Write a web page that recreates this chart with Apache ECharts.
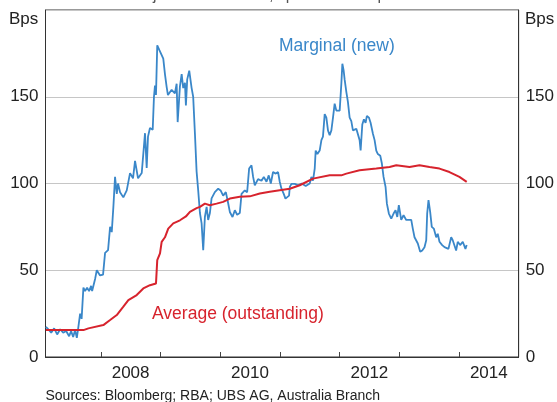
<!DOCTYPE html>
<html>
<head>
<meta charset="utf-8">
<script src="https://cdn.jsdelivr.net/npm/echarts@6/dist/echarts.min.js"></script>
<style>
html,body{margin:0;padding:0;background:#fff;}
#chart{width:557px;height:402px;}
</style>
</head>
<body>
<div id="chart"></div>
<script>
// Decimal-year dates and basis-point spreads
var marginalDates = [2007.080,2007.119,2007.169,2007.219,2007.269,2007.319,2007.370,2007.420,2007.470,2007.503,2007.537,2007.570,2007.599,2007.620,2007.654,2007.679,2007.709,2007.737,2007.771,2007.804,2007.838,2007.855,2007.905,2007.933,2007.988,2008.038,2008.072,2008.122,2008.156,2008.184,2008.211,2008.239,2008.268,2008.289,2008.323,2008.378,2008.435,2008.490,2008.540,2008.574,2008.624,2008.686,2008.741,2008.769,2008.791,2008.824,2008.870,2008.891,2008.908,2008.925,2008.946,2008.980,2009.047,2009.075,2009.104,2009.125,2009.187,2009.242,2009.271,2009.288,2009.326,2009.355,2009.381,2009.410,2009.426,2009.448,2009.482,2009.522,2009.548,2009.577,2009.605,2009.632,2009.661,2009.689,2009.716,2009.744,2009.773,2009.799,2009.828,2009.856,2009.911,2009.967,2010.007,2010.050,2010.095,2010.134,2010.162,2010.207,2010.246,2010.284,2010.329,2010.358,2010.413,2010.452,2010.485,2010.525,2010.552,2010.580,2010.635,2010.692,2010.731,2010.776,2010.814,2010.848,2010.886,2010.931,2010.970,2010.998,2011.027,2011.065,2011.094,2011.120,2011.154,2011.166,2011.194,2011.249,2011.304,2011.366,2011.433,2011.500,2011.528,2011.555,2011.584,2011.600,2011.629,2011.667,2011.696,2011.722,2011.751,2011.779,2011.806,2011.834,2011.863,2011.890,2011.918,2011.946,2011.973,2012.002,2012.030,2012.047,2012.069,2012.085,2012.114,2012.140,2012.169,2012.197,2012.224,2012.253,2012.281,2012.308,2012.336,2012.353,2012.381,2012.408,2012.436,2012.458,2012.492,2012.520,2012.559,2012.587,2012.615,2012.642,2012.682,2012.709,2012.737,2012.771,2012.793,2012.826,2012.866,2012.905,2012.938,2012.967,2012.993,2013.033,2013.072,2013.117,2013.144,2013.201,2013.227,2013.256,2013.311,2013.351,2013.385,2013.423,2013.452,2013.468,2013.490,2013.518,2013.545,2013.579,2013.619,2013.645,2013.674,2013.719,2013.758,2013.786,2013.824,2013.870,2013.896,2013.925,2013.953,2013.980,2014.020,2014.064,2014.092,2014.109,2014.130];
var marginalValues = [17.4,16,14,16.5,13,16,14,15,12,15,11.5,15.5,11,16,25,22,40,38,40,38,41,38,45,50,47,47.5,60,61.6,75,72,86.5,103.8,94,100,95,92,96,106,103,113,103,106,129,109,127,132,131,150,156.5,151,179.6,177,172,163,155.6,151,154,152,157.5,135.4,156,163,155,158,145,160,165,155,150,129,107,96,83,77,61.6,80.7,86.5,79,83,91.4,95,97,96,93,95,88.6,83.6,80.7,84.6,82,83,94,96,95,108.6,110.5,103.8,99,102.5,101.6,103.8,101,104.7,100,106.6,105.7,106.6,101,97,94,91.3,92,93,98,99.8,99.8,99,100,98.5,100,103.8,101.6,108.6,119,117,119,125,127,140,138,130.6,127.8,130.6,138,146,142,141,142,157.5,169,165,160,152.7,147,138,136,130.6,130.6,131.5,130.6,125,119,134,137,135,139,138,135,128.7,125,119,117,116,111.5,103.8,98,88.4,82.7,79.8,82.7,84.6,80.7,87.5,79,81.7,79,80,79,74,69,65.4,60.6,61.4,63.3,67.3,82.7,90.4,83.6,75,74,69,71,66.4,64.5,63.3,63.3,62.3,69,67.3,66.4,61.4,66.4,64.5,66.4,67.3,62.3,64.5];
var averageDates = [2007.080,2007.709,2007.793,2008.043,2008.156,2008.268,2008.378,2008.462,2008.602,2008.712,2008.824,2008.925,2008.946,2008.992,2009.020,2009.075,2009.130,2009.214,2009.326,2009.426,2009.493,2009.605,2009.661,2009.744,2009.828,2009.940,2010.050,2010.162,2010.329,2010.497,2010.664,2010.831,2010.998,2011.166,2011.333,2011.555,2011.834,2012.030,2012.114,2012.336,2012.615,2012.838,2012.950,2013.172,2013.339,2013.507,2013.674,2013.841,2014.008,2014.130];
var averageValues = [15.5,15.5,16.5,18.4,21.3,24.2,29,32.8,35.7,39.5,41.4,42.4,55.8,59.7,66.4,69,74,77,78.8,81,83.6,85.8,86.5,88.4,87.5,88.4,89.4,91.3,92.3,92.6,94.2,95.2,96.1,97,99,102.8,104.7,104.7,105.7,107.6,108.6,109.5,110.5,109.5,110.5,109.5,108.6,106.6,103.8,100.9];
var yearTicks = [2008,2009,2010,2011,2012,2013,2014];
var yearLabels = [2008.5,2010.5,2012.5,2014.5];
var yTicks = [0,50,100,150,200];

function zip(a,b){var r=[];for(var i=0;i<a.length;i++){r.push([a[i],b[i]]);}return r;}

var chart = echarts.init(document.getElementById('chart'), null, {renderer:'canvas'});
var FONT = 'Liberation Sans, Arial, sans-serif';
var yAxisCommon = {
  type:'value', min:yTicks[0], max:yTicks[yTicks.length-1], interval:50,
  axisLine:{show:true, lineStyle:{color:'#333', width:1}},
  axisTick:{show:false},
  axisLabel:{fontSize:17, fontFamily:FONT, color:'#222', margin:7,
    formatter:function(v){return v===200?'':String(v);}}
};
chart.setOption({
  animation:false,
  backgroundColor:'#fff',
  grid:{left:45.5, right:37.3, top:10, bottom:45, show:true, borderColor:'#333', borderWidth:1},
  xAxis:{
    type:'value', min:2007.074, max:2015,
    axisLine:{show:true, lineStyle:{color:'#333', width:1}},
    axisTick:{show:true, inside:true, length:5, customValues:yearTicks, lineStyle:{color:'#444'}},
    axisLabel:{show:true, customValues:yearLabels, fontSize:17, fontFamily:FONT, color:'#222', margin:8,
      formatter:function(v){return String(Math.floor(v));}},
    splitLine:{show:false}
  },
  yAxis:[
    Object.assign({}, yAxisCommon, {position:'left',
      splitLine:{show:true, lineStyle:{color:'#c6c6c6', width:1}}}),
    Object.assign({}, yAxisCommon, {position:'right', splitLine:{show:false}})
  ],
  series:[
    {type:'line', name:'Average (outstanding)', data:zip(averageDates, averageValues), showSymbol:false,
      lineStyle:{color:'#d7232d', width:2}, itemStyle:{color:'#d7232d'}, z:3},
    {type:'line', name:'Marginal (new)', data:zip(marginalDates, marginalValues), showSymbol:false,
      lineStyle:{color:'#3a87c9', width:1.8}, itemStyle:{color:'#3a87c9'}, z:2}
  ],
  graphic:[
    {type:'text', left:'center', y:4, style:{text:"Major banks' bonds, spread to swap rates", fontSize:16, fontFamily:FONT, fill:'#555', verticalAlign:'bottom'}},
    {type:'text', x:9, y:19, style:{text:'Bps', fontSize:17, fontFamily:FONT, fill:'#222', verticalAlign:'middle'}},
    {type:'text', x:525, y:19, style:{text:'Bps', fontSize:17, fontFamily:FONT, fill:'#222', verticalAlign:'middle'}},
    {type:'text', x:279, y:46, style:{text:'Marginal (new)', fontSize:17.5, fontFamily:FONT, fill:'#3a87c9', verticalAlign:'middle'}},
    {type:'text', x:152, y:314, style:{text:'Average (outstanding)', fontSize:17.5, fontFamily:FONT, fill:'#d7232d', verticalAlign:'middle'}},
    {type:'text', x:45.5, y:396, style:{text:'Sources: Bloomberg; RBA; UBS AG, Australia Branch', fontSize:14, fontFamily:FONT, fill:'#222', verticalAlign:'middle'}}
  ]
});
</script>
</body>
</html>
